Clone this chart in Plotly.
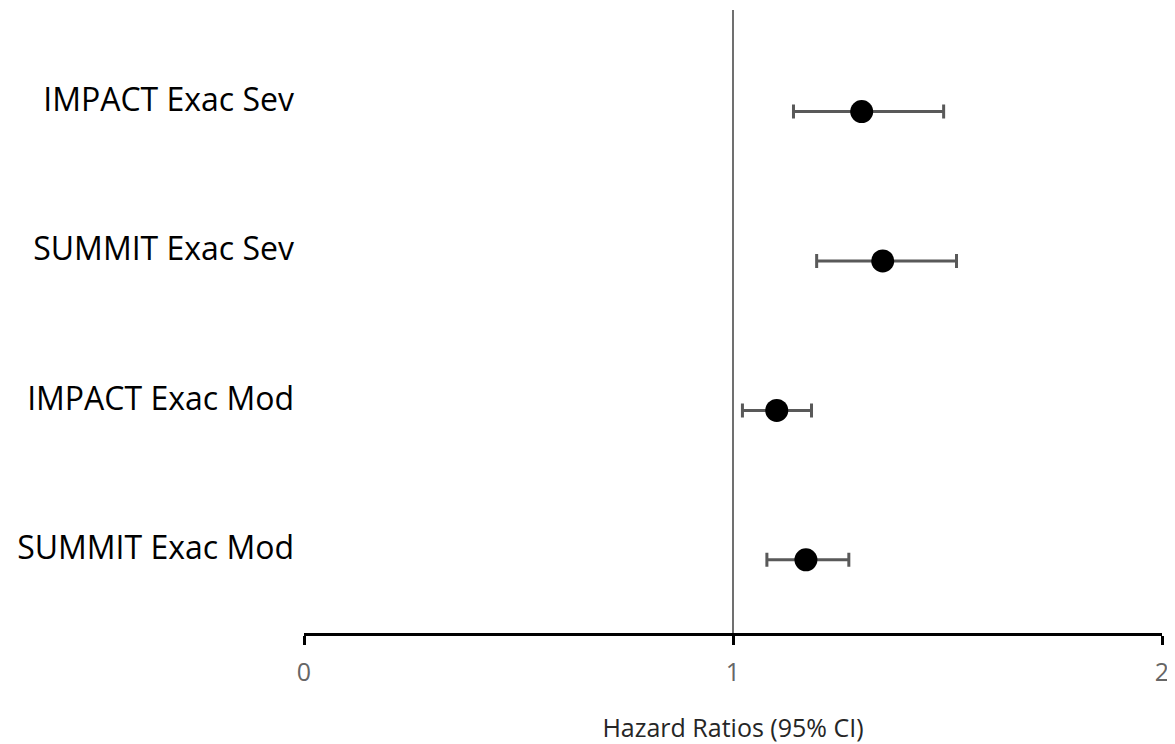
import plotly.graph_objects as go

categories = ["SUMMIT Exac Mod", "IMPACT Exac Mod", "SUMMIT Exac Sev", "IMPACT Exac Sev"]
hr = [1.170, 1.102, 1.349, 1.300]
ci_low = [1.079, 1.022, 1.195, 1.141]
ci_high = [1.270, 1.183, 1.521, 1.491]
x_ticks = [0, 1, 2]
x_title = "Hazard Ratios (95% CI)"

ypos = list(range(len(categories)))
err_plus = [h - c for h, c in zip(ci_high, hr)]
err_minus = [c - l for c, l in zip(hr, ci_low)]

fig = go.Figure()
fig.add_trace(go.Scatter(
    x=hr, y=ypos, mode="markers",
    marker=dict(color="black", size=23),
    error_x=dict(type="data", symmetric=False, array=err_plus, arrayminus=err_minus,
                 color="#595959", thickness=3, width=7),
    showlegend=False,
))

fig.add_shape(type="line", xref="x", yref="paper", x0=1, x1=1, y0=0, y1=1,
              line=dict(color="#404040", width=1.5), layer="below")

fig.update_layout(
    width=1167, height=736,
    margin=dict(l=296, r=13, t=2, b=111, pad=0),
    plot_bgcolor="white", paper_bgcolor="white",
    font=dict(family="Open Sans", color="black"),
    xaxis=dict(
        range=[0, 2], tickvals=x_ticks, ticktext=[str(t) for t in x_ticks],
        showgrid=False, zeroline=False,
        showline=True, linecolor="black", linewidth=3,
        ticks="outside", ticklen=9, tickwidth=3, tickcolor="black",
        tickfont=dict(size=25, color="#666666"),
        ticklabelstandoff=6,
        title=dict(text=x_title, font=dict(size=25, color="#262626"), standoff=34),
    ),
    yaxis=dict(
        range=[-0.49, 3.68], tickvals=ypos, ticktext=categories,
        showgrid=False, zeroline=False, showline=False, ticks="",
        tickfont=dict(size=32, color="black"),
        ticklabelstandoff=9, ticklabelshift=-12,
    ),
)

fig.write_html("out.html")
